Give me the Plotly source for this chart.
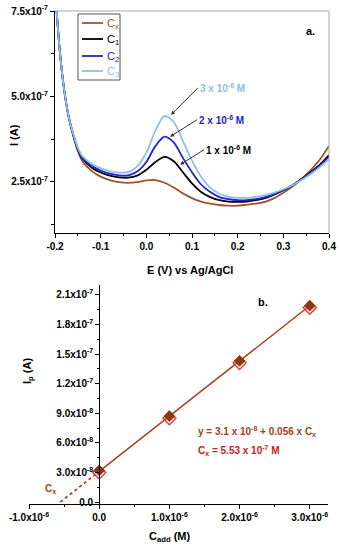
import plotly.graph_objects as go

# ---------------- data: panel a (voltammograms) ----------------
E = [-0.20, -0.19, -0.18, -0.17, -0.16, -0.15, -0.14, -0.12, -0.10, -0.08, -0.06, -0.04, -0.02,
     0.00, 0.02, 0.04, 0.06, 0.08, 0.10, 0.12, 0.14, 0.16, 0.18, 0.20, 0.22, 0.24, 0.26, 0.28,
     0.30, 0.32, 0.34, 0.36, 0.38, 0.40]
I_Cx = [8.2e-7, 6.4e-7, 5.2e-7, 4.4e-7, 3.85e-7, 3.40e-7, 3.10e-7, 2.82e-7, 2.65e-7, 2.55e-7, 2.49e-7,
        2.47e-7, 2.49e-7, 2.54e-7, 2.55e-7, 2.47e-7, 2.33e-7, 2.16e-7, 2.02e-7, 1.92e-7, 1.86e-7,
        1.82e-7, 1.80e-7, 1.80e-7, 1.83e-7, 1.86e-7, 1.91e-7, 2.02e-7, 2.18e-7, 2.36e-7, 2.58e-7,
        2.84e-7, 3.15e-7, 3.55e-7]
I_C1 = [8.2e-7, 6.4e-7, 5.2e-7, 4.4e-7, 3.87e-7, 3.45e-7, 3.18e-7, 2.92e-7, 2.77e-7, 2.68e-7, 2.63e-7,
        2.62e-7, 2.68e-7, 2.85e-7, 3.08e-7, 3.23e-7, 3.10e-7, 2.78e-7, 2.45e-7, 2.20e-7, 2.05e-7,
        1.96e-7, 1.92e-7, 1.91e-7, 1.92e-7, 1.96e-7, 2.02e-7, 2.12e-7, 2.25e-7, 2.40e-7, 2.58e-7,
        2.78e-7, 3.00e-7, 3.28e-7]
I_C2 = [8.2e-7, 6.4e-7, 5.2e-7, 4.4e-7, 3.88e-7, 3.47e-7, 3.20e-7, 2.97e-7, 2.83e-7, 2.74e-7, 2.69e-7,
        2.69e-7, 2.80e-7, 3.08e-7, 3.55e-7, 3.82e-7, 3.65e-7, 3.20e-7, 2.78e-7, 2.42e-7, 2.20e-7,
        2.05e-7, 1.99e-7, 1.96e-7, 1.96e-7, 1.99e-7, 2.05e-7, 2.14e-7, 2.26e-7, 2.40e-7, 2.57e-7,
        2.76e-7, 2.97e-7, 3.24e-7]
I_C3 = [8.2e-7, 6.4e-7, 5.2e-7, 4.4e-7, 3.90e-7, 3.50e-7, 3.25e-7, 3.03e-7, 2.90e-7, 2.81e-7, 2.77e-7,
        2.78e-7, 2.95e-7, 3.35e-7, 4.00e-7, 4.43e-7, 4.25e-7, 3.70e-7, 3.12e-7, 2.65e-7, 2.33e-7,
        2.15e-7, 2.06e-7, 2.03e-7, 2.03e-7, 2.06e-7, 2.11e-7, 2.18e-7, 2.28e-7, 2.40e-7, 2.55e-7,
        2.73e-7, 2.93e-7, 3.16e-7]
series_names = ["C<sub>x</sub>", "C<sub>1</sub>", "C<sub>2</sub>", "C<sub>3</sub>"]
series_colors = ["#a0522d", "#000000", "#2222c8", "#8cc0ea"]

ya_tickvals = [2.5e-7, 5.0e-7, 7.5e-7]
ya_ticktext = ["2.5x10<sup>-7</sup>", "5.0x10<sup>-7</sup>", "7.5x10<sup>-7</sup>"]
ya_minor = [1.25e-7, 3.75e-7, 6.25e-7]
xa_tickvals = [-0.2, -0.1, 0.0, 0.1, 0.2, 0.3, 0.4]
xa_ticktext = ["-0.2", "-0.1", "0.0", "0.1", "0.2", "0.3", "0.4"]
xa_minor = [-0.15, -0.05, 0.05, 0.15, 0.25, 0.35]

peak_labels = ["1 x 10<sup>-6</sup> M", "2 x 10<sup>-6</sup> M", "3 x 10<sup>-6</sup> M"]
peak_tip_E = [0.074, 0.052, 0.054]
peak_tip_I = [3.0e-7, 3.82e-7, 4.46e-7]

# ---------------- data: panel b (standard addition) ----------------
C_add = [0.0, 1.0e-6, 2.0e-6, 3.0e-6]
Ip_filled = [3.2e-8, 8.7e-8, 1.43e-7, 1.99e-7]
Ip_open = [3.0e-8, 8.5e-8, 1.41e-7, 1.97e-7]
intercept = 3.1e-8
slope = 0.056
Cx_value = 5.53e-7

yb_tickvals = [0.0, 3.0e-8, 6.0e-8, 9.0e-8, 1.2e-7, 1.5e-7, 1.8e-7, 2.1e-7]
yb_ticktext = ["0.0", "3.0x10<sup>-8</sup>", "6.0x10<sup>-8</sup>", "9.0x10<sup>-8</sup>",
               "1.2x10<sup>-7</sup>", "1.5x10<sup>-7</sup>", "1.8x10<sup>-7</sup>", "2.1x10<sup>-7</sup>"]
yb_minor = [1.5e-8, 4.5e-8, 7.5e-8, 1.05e-7, 1.35e-7, 1.65e-7, 1.95e-7]
xb_tickvals = [-1.0e-6, 0.0, 1.0e-6, 2.0e-6, 3.0e-6]
xb_ticktext = ["-1.0x10<sup>-6</sup>", "0.0", "1.0x10<sup>-6</sup>", "2.0x10<sup>-6</sup>", "3.0x10<sup>-6</sup>"]
xb_minor = [-5e-7, 5e-7, 1.5e-6, 2.5e-6]

FONT = "Liberation Sans, Arial, sans-serif"


def bold(lst):
    return [f"<b>{t}</b>" for t in lst]


fig = go.Figure()

for name, col, ys in zip(series_names, series_colors, [I_Cx, I_C1, I_C2, I_C3]):
    fig.add_trace(go.Scatter(
        x=E, y=ys, mode="lines", line=dict(color=col, width=1.8, shape="spline", smoothing=0.8),
        name=name, xaxis="x", yaxis="y", showlegend=False))

# panel b
fit_x = [0.0, C_add[-1]]
fit_y = [intercept + slope * v for v in fit_x]
fig.add_trace(go.Scatter(x=fit_x, y=fit_y, mode="lines", line=dict(color="#a5421c", width=1.5),
                         xaxis="x2", yaxis="y2", showlegend=False))
ext_x = [-Cx_value, 0.0]
ext_y = [intercept + slope * v for v in ext_x]
fig.add_trace(go.Scatter(x=ext_x, y=ext_y, mode="lines", line=dict(color="#a5421c", width=1.8, dash="dot"),
                         xaxis="x2", yaxis="y2", showlegend=False))
fig.add_trace(go.Scatter(x=C_add, y=Ip_open, mode="markers",
                         marker=dict(symbol="diamond-open", size=10, color="#ee3a30", line=dict(width=1.5)),
                         xaxis="x2", yaxis="y2", showlegend=False))
fig.add_trace(go.Scatter(x=C_add, y=Ip_filled, mode="markers",
                         marker=dict(symbol="diamond", size=9, color="#8a3a12"),
                         xaxis="x2", yaxis="y2", showlegend=False))

W, H = 340, 550
xa_dom = [55 / W, 329 / W]
ya_dom = [1 - 233 / H, 1 - 11 / H]
xb_range = [-1.0e-6, 3.26e-6]
xb_dom = [29 / W, 328 / W]
yb_dom = [1 - 504 / H, 1 - 285 / H]
yb_pos = xb_dom[0] + (0 - xb_range[0]) / (xb_range[1] - xb_range[0]) * (xb_dom[1] - xb_dom[0])

tickfont = dict(family=FONT, size=10, color="black")
common = dict(showline=True, linecolor="black", linewidth=1, ticks="outside", ticklen=4,
              tickcolor="black", showgrid=False, zeroline=False, tickfont=tickfont, tickmode="array",
              automargin=False, ticklabeloverflow="allow")

shapes = [
    dict(type="line", xref="x domain", yref="y domain", x0=0, x1=1, y0=1, y1=1,
         line=dict(color="#aaaaaa", width=1)),
    dict(type="line", xref="x domain", yref="y domain", x0=1, x1=1, y0=0, y1=1,
         line=dict(color="#aaaaaa", width=1)),
    # legend box
    dict(type="rect", xref="paper", yref="paper", x0=78 / W, x1=120 / W, y0=1 - 80 / H, y1=1 - 14 / H,
         line=dict(color="#555555", width=1), fillcolor="white"),
]

ann = []
legend_y = [23, 39, 56, 71]
for name, col, ly in zip(series_names, series_colors, legend_y):
    shapes.append(dict(type="line", xref="paper", yref="paper", x0=82 / W, x1=103 / W,
                       y0=1 - ly / H, y1=1 - ly / H, line=dict(color=col, width=1.8)))
    ann.append(dict(text=name, xref="paper", yref="paper", x=105 / W, y=1 - (ly + 1) / H,
                    xanchor="left", yanchor="middle", showarrow=False,
                    font=dict(size=11, family=FONT, color=col)))

fig.update_layout(
    width=W, height=H, margin=dict(l=0, r=0, t=0, b=0), autosize=False,
    paper_bgcolor="white", plot_bgcolor="white",
    font=dict(family=FONT, color="black"),
    xaxis=dict(domain=xa_dom, range=[-0.2, 0.4], anchor="y", tickvals=xa_tickvals, ticktext=bold(xa_ticktext),
               minor=dict(tickmode="array", tickvals=xa_minor, ticks="outside", ticklen=2, tickcolor="black"),
               **common),
    yaxis=dict(domain=ya_dom, range=[1.0e-7, 7.5e-7], anchor="x", tickvals=ya_tickvals, ticktext=bold(ya_ticktext),
               minor=dict(tickmode="array", tickvals=ya_minor, ticks="outside", ticklen=3, tickcolor="black"),
               **common),
    xaxis2=dict(domain=xb_dom, range=xb_range, anchor="y2", tickvals=xb_tickvals, ticktext=bold(xb_ticktext),
                minor=dict(tickmode="array", tickvals=xb_minor, ticks="outside", ticklen=2, tickcolor="black"),
                **common),
    yaxis2=dict(domain=yb_dom, range=[-0.2e-8, 2.2e-7], anchor="free", position=yb_pos,
                tickvals=yb_tickvals, ticktext=bold(yb_ticktext),
                minor=dict(tickmode="array", tickvals=yb_minor, ticks="outside", ticklen=2, tickcolor="black"),
                **common),
    showlegend=False,
    shapes=shapes,
)

# axis titles
ann.append(dict(text="<b>I (A)</b>", xref="paper", yref="paper", x=6 / W, y=1 - 122 / H,
                textangle=-90, showarrow=False, font=dict(size=11, family=FONT)))
ann.append(dict(text="<b>E (V) vs Ag/AgCl</b>", xref="paper", yref="paper", x=190 / W, y=1 - 270 / H,
                showarrow=False, font=dict(size=11, family=FONT)))
ann.append(dict(text="<b>I<sub>p</sub> (A)</b>", xref="paper", yref="paper", x=19 / W, y=1 - 386 / H,
                textangle=-90, showarrow=False, font=dict(size=11, family=FONT)))
ann.append(dict(text="<b>C<sub>add</sub> (M)</b>", xref="paper", yref="paper", x=170 / W, y=1 - 546 / H,
                showarrow=False, font=dict(size=11, family=FONT)))
ann.append(dict(text="<b>a.</b>", xref="paper", yref="paper", x=317 / W, y=1 - 23 / H,
                showarrow=False, font=dict(size=11, family=FONT)))
ann.append(dict(text="<b>b.</b>", xref="paper", yref="paper", x=270 / W, y=1 - 302 / H,
                showarrow=False, font=dict(size=11, family=FONT)))

# peak arrows
offsets = [(24, -15), (27, -17), (27, -27)]
label_cols = ["#000000", "#2222c8", "#8cc0ea"]
for lab, ex, iy, (ax, ay), col in zip(peak_labels, peak_tip_E, peak_tip_I, offsets, label_cols):
    ann.append(dict(text=f"<b>{lab}</b>", x=ex, y=iy, xref="x", yref="y", showarrow=True, ax=ax, ay=ay,
                    xanchor="left", yanchor="middle", arrowhead=2, arrowsize=0.8, arrowwidth=1,
                    arrowcolor="#333333", font=dict(size=10, family=FONT, color=col)))

# panel b texts
ann.append(dict(text="<b>y = 3.1 x 10<sup>-8</sup> + 0.056 x C<sub>x</sub></b>", x=1.38e-6, y=7.1e-8,
                xref="x2", yref="y2", xanchor="left", showarrow=False,
                font=dict(size=10, family=FONT, color="#a83a1a")))
ann.append(dict(text="<b>C<sub>x</sub> = 5.53 x 10<sup>-7</sup> M</b>", x=1.38e-6, y=5.2e-8,
                xref="x2", yref="y2", xanchor="left", showarrow=False,
                font=dict(size=10, family=FONT, color="#c8201a")))
ann.append(dict(text="<b>C<sub>x</sub></b>", x=-0.70e-6, y=1.3e-8, xref="x2", yref="y2", showarrow=False,
                font=dict(size=10, family=FONT, color="#a5421c")))

fig.update_layout(annotations=ann)
fig.write_html("out.html", config={"displayModeBar": False, "staticPlot": True},
               post_script="document.body.style.margin='0px';document.body.style.overflow='hidden';")
